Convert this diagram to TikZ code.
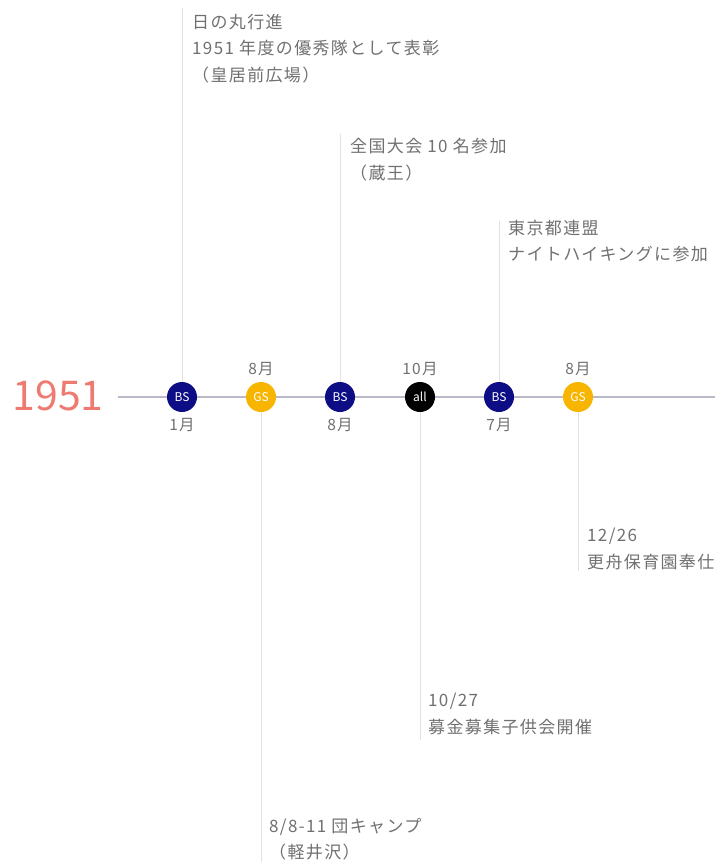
\documentclass[tikz,border=0pt]{standalone}
\usepackage{fontspec}
\setmainfont{Noto Sans CJK JP}
\newfontfamily\notefont[LetterSpace=8]{Noto Sans CJK JP}
\usetikzlibrary{positioning}
\definecolor{bsblue}{HTML}{0D0D85}
\definecolor{gsgold}{HTML}{F7B500}
\definecolor{yearred}{HTML}{EE7B72}
\definecolor{notegray}{HTML}{707070}
\definecolor{leadgray}{HTML}{E2E2E2}
\definecolor{linegray}{HTML}{B9B9C8}
\tikzset{
  dot/.style={circle, minimum size=30pt, inner sep=0pt, text=white,
    font=\fontsize{12}{12}\selectfont},
  bs/.style={dot, fill=bsblue},
  gs/.style={dot, fill=gsgold},
  alldot/.style={dot, fill=black},
  month/.style={inner sep=0pt, text=notegray, font=\notefont\fontsize{15.5}{15.5}\selectfont},
  note/.style={inner sep=0pt, anchor=north west, align=left, text=notegray,
    font=\notefont\fontsize{17}{26.5}\selectfont},
  leader/.style={draw=leadgray, line width=0.8pt},
  timeline/.style={draw=linegray, line width=1.4pt}
}
\begin{document}
\begin{tikzpicture}[x=1pt,y=-1pt]
        \useasboundingbox (0,0) rectangle (715,862);
        % Timeline
        \coordinate (tl0) at (118,397);
        \coordinate (tl1) at (715,397);
        \draw[timeline] (tl0) -- (tl1);
        \node[text=yearred, font=\fontsize{41}{41}\selectfont] (year) at (58,396) {1951};

        % Events on the line
        \node[bs] (b1) at (182,397) {BS};
        \node[gs] (g1) at (261,397) {GS};
        \node[bs] (b2) at (340,397) {BS};
        \node[alldot] (a1) at (420,397) {all};
        \node[bs] (b3) at (499,397) {BS};
        \node[gs] (g2) at (578,397) {GS};

        % Months
        \node[month, below=6pt of b1] (m1) {1月};
        \node[month, above=6pt of g1] (m2) {8月};
        \node[month, below=6pt of b2] (m3) {8月};
        \node[month, above=6pt of a1] (m4) {10月};
        \node[month, below=6pt of b3] (m5) {7月};
        \node[month, above=6pt of g2] (m6) {8月};

        % Notes
        \node[note] (nA) at (192,14) {日の丸行進\\1951 年度の優秀隊として表彰\\（皇居前広場）};
        \node[note] (nB) at (350,138) {全国大会 10 名参加\\（蔵王）};
        \node[note] (nC) at (508,220) {東京都連盟\\ナイトハイキングに参加};
        \node[note] (nD) at (587,528) {12/26\\更舟保育園奉仕};
        \node[note] (nE) at (428,693) {10/27\\募金募集子供会開催};
        \node[note] (nF) at (269,818) {8/8-11 団キャンプ\\（軽井沢）};

        % Leader lines
        \coordinate (eA) at (182,8);
        \coordinate (eB) at (340,134);
        \coordinate (eC) at (499,221);
        \coordinate (eD) at (578,571);
        \coordinate (eE) at (420,740);
        \coordinate (eF) at (261,862);
        \draw[leader] (b1.north) -- (eA);
        \draw[leader] (b2.north) -- (eB);
        \draw[leader] (b3.north) -- (eC);
        \draw[leader] (g2.south) -- (eD);
        \draw[leader] (a1.south) -- (eE);
        \draw[leader] (g1.south) -- (eF);
    \end{tikzpicture}
\end{document}
